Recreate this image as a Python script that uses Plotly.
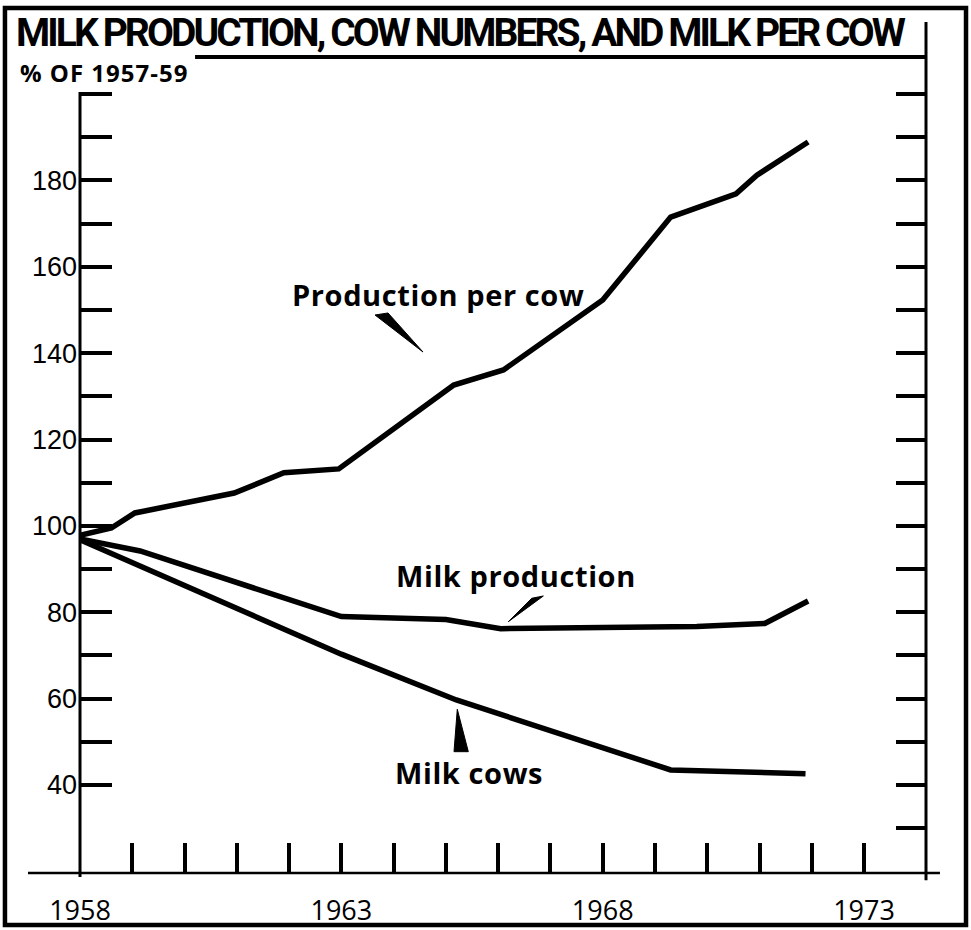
import plotly.graph_objects as go

# ---- data ----
per_cow_x = [1958.0, 1958.6, 1959.05, 1960.95, 1961.9, 1962.95, 1965.15, 1966.1, 1968.0, 1969.3, 1970.55, 1970.95, 1971.93]
per_cow_y = [97.8, 99.5, 103.0, 107.6, 112.3, 113.2, 132.6, 136.1, 152.3, 171.5, 176.9, 181.2, 188.9]

milk_prod_x = [1958.0, 1959.15, 1963.0, 1965.0, 1966.05, 1968.0, 1969.8, 1971.1, 1971.93]
milk_prod_y = [97.0, 94.2, 79.0, 78.3, 76.2, 76.4, 76.7, 77.4, 82.6]

milk_cows_x = [1958.0, 1963.0, 1965.2, 1969.3, 1971.88]
milk_cows_y = [96.8, 70.3, 59.7, 43.5, 42.6]

x_tick_years = list(range(1958, 1974))
x_tick_labels = ["1958" if y == 1958 else "1963" if y == 1963 else "1968" if y == 1968 else "1973" if y == 1973 else "" for y in x_tick_years]
y_left_ticks = list(range(40, 201, 10))
y_left_labels = [str(v) if (v % 20 == 0 and v <= 180) else "" for v in y_left_ticks]
y_right_ticks = list(range(30, 201, 10))

title_text = "MILK PRODUCTION, COW NUMBERS, AND MILK PER COW"
unit_text = "% OF 1957-59"
labels = [
    ("Production per cow", 1964.84, 153.5),
    ("Milk production", 1966.34, 88.6),
    ("Milk cows", 1965.44, 42.9),
]
wedges = [
    [(1963.644, 148.83), (1963.893, 149.30), (1964.562, 140.26)],
    [(1966.642, 83.24), (1966.864, 83.77), (1966.194, 77.82)],
    [(1965.218, 57.54), (1965.155, 47.72), (1965.429, 47.72)],
]

X_RANGE = [1958, 1974.185]
Y_RANGE = [19.63, 208.57]

fig = go.Figure()
for xs, ys in [(per_cow_x, per_cow_y), (milk_prod_x, milk_prod_y), (milk_cows_x, milk_cows_y)]:
    fig.add_trace(go.Scatter(x=xs, y=ys, mode="lines", line=dict(color="black", width=5.5),
                             showlegend=False, hoverinfo="skip"))
fig.add_trace(go.Scatter(x=[None], y=[None], yaxis="y2", showlegend=False, hoverinfo="skip"))

shapes = []
for w in wedges:
    path = "M {} {} L {} {} L {} {} Z".format(w[0][0], w[0][1], w[1][0], w[1][1], w[2][0], w[2][1])
    shapes.append(dict(type="path", path=path, xref="x", yref="y", fillcolor="black",
                       line=dict(color="black", width=1)))
# axis lines and frame (paper coordinates)
shapes += [
    dict(type="line", xref="paper", yref="paper", x0=0, x1=0, y0=-0.005, y1=0.957,
         line=dict(color="black", width=3)),
    dict(type="line", xref="paper", yref="paper", x0=1, x1=1, y0=-0.009, y1=1.043,
         line=dict(color="black", width=3)),
    dict(type="line", xref="paper", yref="paper", x0=-0.0615, x1=1.0165, y0=0, y1=0,
         line=dict(color="black", width=2.5)),
    dict(type="line", xref="paper", yref="paper", x0=0.1360, x1=1.0, y0=1.0, y1=1.0,
         line=dict(color="black", width=4)),
    dict(type="rect", xref="paper", yref="paper", x0=-0.0887, x1=1.0473, y0=-0.0637, y1=1.0600,
         line=dict(color="black", width=4.5), layer="above"),
]

annotations = [
    dict(text='<span style="letter-spacing:-2.9px"><b>' + title_text + "</b></span>",
         xref="paper", yref="paper", x=0.4504, y=1.0294,
         xanchor="center", yanchor="middle", showarrow=False,
         font=dict(family="Roboto, Liberation Sans, sans-serif", size=39, color="black", weight=900)),
    dict(text='<span style="letter-spacing:1px"><b>' + unit_text + "</b></span>",
         xref="paper", yref="paper", x=-0.0733, y=0.9816,
         xanchor="left", yanchor="middle", showarrow=False,
         font=dict(family="Open Sans, sans-serif", size=24, color="black")),
]
for txt, lx, ly in labels:
    annotations.append(dict(text='<span style="letter-spacing:0.6px"><b>' + txt + "</b></span>",
                            x=lx, y=ly, xref="x", yref="y",
                            xanchor="center", yanchor="middle", showarrow=False,
                            font=dict(family="Open Sans, sans-serif", size=29, color="black")))

fig.update_layout(
    width=971, height=930,
    margin=dict(l=80, r=45, t=57, b=57, autoexpand=False),
    paper_bgcolor="white", plot_bgcolor="white",
    shapes=shapes, annotations=annotations,
    xaxis=dict(range=X_RANGE, tickmode="array", tickvals=x_tick_years, ticktext=x_tick_labels,
               ticks="inside", ticklen=30, tickwidth=4, tickcolor="black", automargin=False,
               showgrid=False, zeroline=False, showline=False,
               tickfont=dict(family="Open Sans, sans-serif", size=27, color="black"),
               ticklabelstandoff=19),
    yaxis=dict(range=Y_RANGE, tickmode="array", tickvals=y_left_ticks, ticktext=y_left_labels,
               ticks="inside", ticklen=32, tickwidth=4, tickcolor="black", automargin=False,
               showgrid=False, zeroline=False, showline=False,
               tickfont=dict(family="Liberation Sans, Arial, sans-serif", size=27, color="black"),
               ticklabelstandoff=2),
    yaxis2=dict(range=Y_RANGE, overlaying="y", side="right", tickmode="array", tickvals=y_right_ticks,
                ticks="inside", ticklen=30, tickwidth=4, tickcolor="black", showticklabels=False,
                automargin=False, showgrid=False, zeroline=False, showline=False),
)

fig.write_html("out.html", config={"displayModeBar": False, "staticPlot": True},
               post_script="document.body.style.margin='0px';")
